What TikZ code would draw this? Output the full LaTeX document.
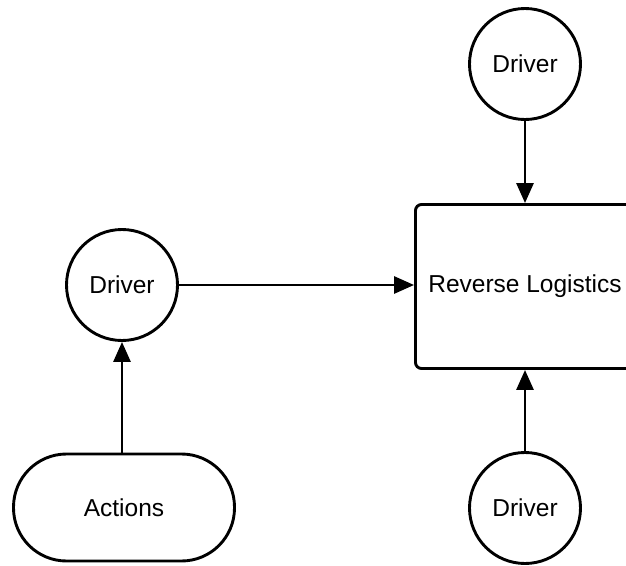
\documentclass[tikz,border=0pt]{standalone}
\usepackage{fontspec}
\setmainfont{Liberation Sans}
\usetikzlibrary{arrows.meta}
\begin{document}
\begin{tikzpicture}[x=1pt,y=-1pt,
  every node/.style={font=\fontsize{24.5}{28}\selectfont, line width=2.9pt},
  driver/.style={draw, circle, minimum size=111pt, inner sep=0pt},
  target/.style={draw, rectangle, rounded corners=6pt, minimum width=219pt, minimum height=164pt, inner sep=0pt},
  action/.style={draw, rectangle, rounded corners=53pt, minimum width=221pt, minimum height=107pt, inner sep=0pt},
  link/.style={line width=2.9pt, -{Triangle[length=20pt,width=17pt]}}]
  \useasboundingbox (0,0) rectangle (626,565);
  \clip (0,0) rectangle (626,565);

  \node[target] (rl) at (525,286.5) {Reverse Logistics};
  \node[driver] (dtop) at (525,64) {Driver};
  \node[driver] (dleft) at (122,285) {Driver};
  \node[driver] (dbot) at (525,508) {Driver};
  \node[action] (act) at (124,507.5) {Actions};

  \draw[link] (dtop) -- (rl);
  \draw[link] (dbot) -- (rl);
  \draw[link] (dleft) -- (dleft -| rl.west);
  \draw[link] (act.north -| dleft) -- (dleft);
\end{tikzpicture}
\end{document}
